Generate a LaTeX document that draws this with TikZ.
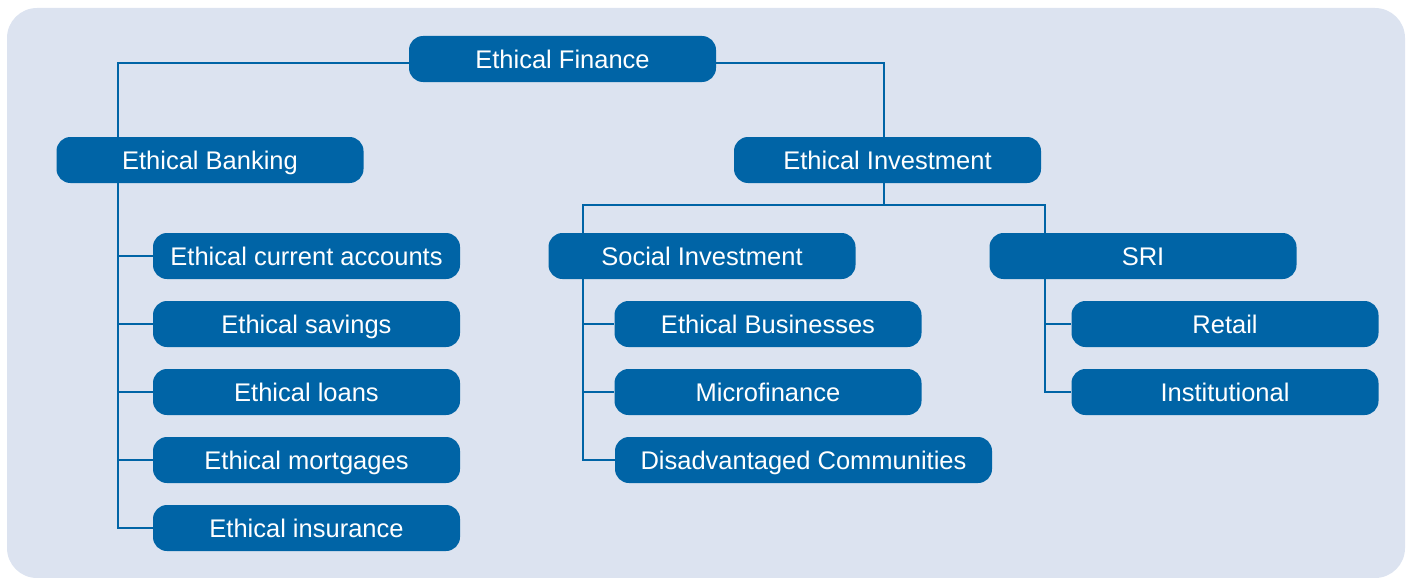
\documentclass[tikz,border=0pt]{standalone}
\usepackage{fontspec}
\setmainfont{Liberation Sans}
\definecolor{panel}{HTML}{DCE3F0}
\definecolor{nodeblue}{HTML}{0064A6}
\begin{document}
\begin{tikzpicture}[x=1pt,y=-1pt,
  box/.style={draw=none,fill=nodeblue,rounded corners=14pt,text=white,
    minimum width=307pt,minimum height=46pt,inner sep=0pt,
    text height=18.5pt,text depth=0pt,
    font=\fontsize{25.5}{30}\selectfont},
  wide/.style={minimum width=377pt},
  link/.style={draw=nodeblue,line width=1.4pt}]
\useasboundingbox (0,0) rectangle (1413,578);
\fill[panel,rounded corners=30pt] (7,8) rectangle (1405,578);
% nodes
\node[box] (ef) at (562.5,59) {Ethical Finance};
\node[box] (eb) at (210,160) {Ethical Banking};
\node[box] (ei) at (887.5,160) {Ethical Investment};
\node[box] (eca) at (306.5,256) {Ethical current accounts};
\node[box] (es) at (306.5,324) {Ethical savings};
\node[box] (el) at (306.5,392) {Ethical loans};
\node[box] (em) at (306.5,460) {Ethical mortgages};
\node[box] (ein) at (306.5,528) {Ethical insurance};
\node[box] (si) at (702,256) {Social Investment};
\node[box] (ebu) at (768,324) {Ethical Businesses};
\node[box] (mf) at (768,392) {Microfinance};
\node[box,wide] (dc) at (803.5,460) {Disadvantaged Communities};
\node[box] (sri) at (1143,256) {SRI};
\node[box] (rt) at (1225,324) {Retail};
\node[box] (inst) at (1225,392) {Institutional};
% helper coordinates
\coordinate (efl) at (ef.west |- 0,63);
\coordinate (efr) at (ef.east |- 0,63);
\coordinate (bx) at (118,0);
\coordinate (ix) at (884,0);
\coordinate (sx) at (583,0);
\coordinate (rx) at (1045,0);
\coordinate (split) at (884,205);
% connectors
\draw[link] (efl) -| (bx |- eb.north);
\draw[link] (efr) -| (ix |- ei.north);
\draw[link] (bx |- eb.south) -- (bx |- ein.west) -- (ein.west);
\foreach \n in {eca,es,el,em} \draw[link] (bx |- \n.west) -- (\n.west);
\draw[link] (ix |- ei.south) -- (split);
\draw[link] (sx |- si.north) |- (split) -| (rx |- sri.north);
\draw[link] (sx |- si.south) -- (sx |- dc.west) -- (dc.west);
\foreach \n in {ebu,mf} \draw[link] (sx |- \n.west) -- (\n.west);
\draw[link] (rx |- sri.south) -- (rx |- inst.west) -- (inst.west);
\draw[link] (rx |- rt.west) -- (rt.west);
\end{tikzpicture}
\end{document}
